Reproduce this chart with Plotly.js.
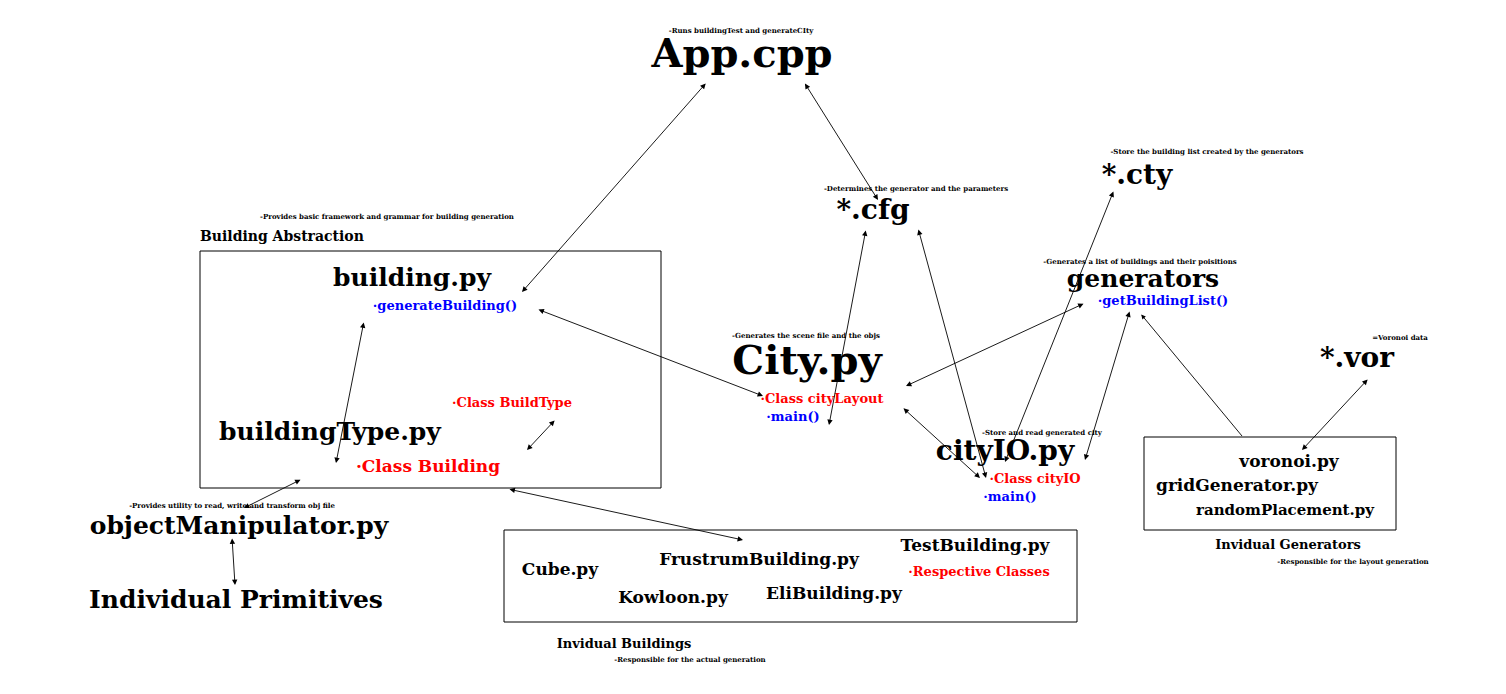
<!DOCTYPE html>
<html><head><meta charset="utf-8">
<script src="https://cdn.plot.ly/plotly-3.0.1.min.js"></script>
<style>html,body{margin:0;background:#fff}#plot{width:1506px;height:694px}</style>
</head><body><div id="plot"></div>
<script>
// Labels of the module diagram
const labels = [
  '-Runs buildingTest and generateCIty', 'App.cpp',
  '-Store the building list created by the generators', '*.cty',
  '-Determines the generator and the parameters', '*.cfg',
  '-Provides basic framework and grammar for building generation',
  'building.py', '·generateBuilding()',
  '-Generates a list of buildings and their poisitions', 'generators', '·getBuildingList()',
  '-Generates the scene file and the objs', 'City.py',
  '=Voronoi data', '*.vor',
  '·Class BuildType', '·Class cityLayout', '·main()',
  'buildingType.py', '-Store and read generated city', 'cityIO.py',
  '·Class Building', '·Class cityIO', '·main()',
  'voronoi.py', 'gridGenerator.py', 'randomPlacement.py',
  '-Provides utility to read, write and transform obj file', 'objectManipulator.py',
  'TestBuilding.py', 'FrustrumBuilding.py', 'Cube.py', '·Respective Classes',
  'Kowloon.py', 'EliBuilding.py', 'Individual Primitives',
  'Invidual Generators', '-Responsible for the layout generation',
  'Invidual Buildings', '-Responsible for the actual generation'
];
const labelX = [741,742,1207,1137,916,873,387,412,445,1140,1143,1163,806,807,1400,1357,512,822,793,
  330,1042,1005,428,1035,1010,1289,1237,1285,232,239,975,759,560,979,673,834,236,1288,1353,624,690];
const labelY = [31,57,152,177,189,212,217,280,307,262,281,302,336,364,338,360,404,400,418,
  434,433,453,468,480,498,463,487,511,506,528,547,561,571,573,599,595,602,546,562,645,660];
const labelSize = [7,40,7,28,7,28,7,25,13,7,25,13,7,40,7,28,13,13,13,
  25,7,28,17,13,13,17,17,15,7,25,17,17,17,13,17,17,25,13,7,13,7];
const labelColor = labels.map(s =>
  /^·(generate|getBuilding|main)/.test(s) ? '#0000ff' : s.startsWith('·') ? '#ff0000' : '#000000');

// Group headings (left aligned)
const headText = ['Building Abstraction'];
const headX = [200];
const headY = [237];

// Boxes: x0, y0, x1, y1
const boxX0 = [200, 1144, 504];
const boxY0 = [251, 437, 530];
const boxX1 = [661, 1396, 1077];
const boxY1 = [488, 530, 622];

// Links between modules
const linkX0 = [707,804,866,918,1114,1085,1130,1369,537,902,364,556,302,508,232,1140];
const linkY0 = [82,82,229,228,190,303,310,378,309,407,321,419,479,489,537,313];
const linkX1 = [522,878,829,986,1005,906,1085,1302,763,980,336,527,244,743,235,1242];
const linkY1 = [292,200,425,478,462,386,460,450,396,478,463,450,508,540,585,436];

const font = 'DejaVu Serif';
const traces = [
  { x: labelX, y: labelY, text: labels, mode: 'text', type: 'scatter',
    textposition: 'middle center', hoverinfo: 'none',
    textfont: { family: font, size: labelSize, color: labelColor, weight: 'bold' } },
  { x: headX, y: headY, text: headText, mode: 'text', type: 'scatter',
    textposition: 'middle right', hoverinfo: 'none',
    textfont: { family: font, size: 14, color: '#000', weight: 'bold' } },
];

const shapes = boxX0.map((x0, i) => ({
  type: 'rect', xref: 'x', yref: 'y', x0, y0: boxY0[i], x1: boxX1[i], y1: boxY1[i],
  line: { color: '#000', width: 1 },
}));

const annotations = linkX0.map((ax, i) => ({
  x: linkX1[i], y: linkY1[i], ax, ay: linkY0[i], xref: 'x', yref: 'y', axref: 'x', ayref: 'y',
  text: '', showarrow: true, arrowhead: 2, startarrowhead: 2, arrowsize: 1.2, arrowwidth: 0.9,
  arrowside: i === linkX0.length - 1 ? 'start' : 'end+start', arrowcolor: '#000',
}));

const layout = {
  width: 1506, height: 694, paper_bgcolor: '#fff', plot_bgcolor: '#fff',
  margin: { l: 0, r: 0, t: 0, b: 0 }, showlegend: false,
  xaxis: { range: [0, 1506], visible: false, fixedrange: true },
  yaxis: { range: [694, 0], visible: false, fixedrange: true },
  shapes, annotations,
};

Plotly.newPlot('plot', traces, layout, { displayModeBar: false, staticPlot: true });
</script></body></html>
